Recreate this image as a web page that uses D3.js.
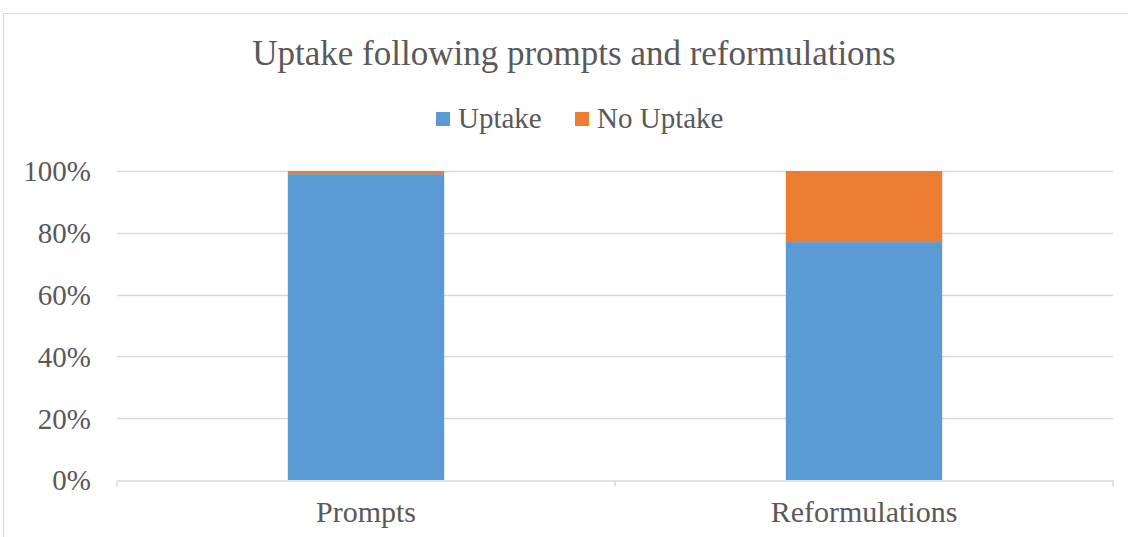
<!DOCTYPE html>
<html>
<head>
<meta charset="utf-8">
<script src="https://cdn.jsdelivr.net/npm/d3@7"></script>
<style>
  body { margin: 0; background: #fff; }
  svg text { font-family: "Times New Roman", "Liberation Serif", serif; }
</style>
</head>
<body>
<div id="chart"></div>
<script>
// Data
var categories = ["Prompts", "Reformulations"];
var seriesNames = ["Uptake", "No Uptake"];
var uptake = [0.99, 0.77];
var noUptake = [0.01, 0.23];
var yTicks = [0, 0.2, 0.4, 0.6, 0.8, 1.0];
var colors = ["#5b9bd5", "#ed7d31"];

var width = 1128, height = 537;
var margin = { top: 171, right: 15, bottom: 57, left: 117 };

var svg = d3.select("#chart")
  .append("svg")
  .attr("width", width)
  .attr("height", height);

// chart border
svg.append("rect")
  .attr("x", 3.5).attr("y", 13.5)
  .attr("width", width + 10).attr("height", height + 10)
  .attr("fill", "none").attr("stroke", "#d9d9d9").attr("stroke-width", 1);

var x = d3.scaleBand()
  .domain(categories)
  .range([margin.left, width - margin.right])
  .paddingInner(0.686)
  .paddingOuter(0.343);

var xOuter = d3.scaleBand()
  .domain(categories)
  .range([margin.left, width - margin.right]);

var y = d3.scaleLinear()
  .domain([0, 1])
  .range([height - margin.bottom, margin.top]);

// gridlines
svg.append("g")
  .selectAll("line")
  .data(yTicks.slice(1))
  .enter()
  .append("line")
  .attr("x1", margin.left).attr("x2", width - margin.right)
  .attr("y1", function (d) { return Math.round(y(d)) + 0.5; })
  .attr("y2", function (d) { return Math.round(y(d)) + 0.5; })
  .attr("stroke", "#d9d9d9").attr("stroke-width", 1.5);

// stacked bars
var rows = categories.map(function (c, i) {
  return { cat: c, "Uptake": uptake[i], "No Uptake": noUptake[i] };
});
var stack = d3.stack().keys(seriesNames)(rows);

svg.append("g")
  .selectAll("g")
  .data(stack)
  .enter()
  .append("g")
  .attr("fill", function (d, i) { return colors[i]; })
  .selectAll("rect")
  .data(function (d) { return d; })
  .enter()
  .append("rect")
  .attr("x", function (d) { return x(d.data.cat); })
  .attr("width", x.bandwidth())
  .attr("y", function (d) { return y(d[1]); })
  .attr("height", function (d) { return y(d[0]) - y(d[1]); });

// x axis line and ticks
var xAxis = d3.axisBottom(xOuter).tickSize(0).tickFormat("");
var xg = svg.append("g")
  .attr("transform", "translate(0," + (Math.round(y(0)) + 0.5) + ")")
  .call(xAxis);
xg.select(".domain").attr("stroke", "#d9d9d9").attr("stroke-width", 1.5);
var bounds = [margin.left].concat(categories.map(function (c) { return xOuter(c) + xOuter.bandwidth(); }));
xg.selectAll(".sep")
  .data(bounds)
  .enter()
  .append("line")
  .attr("class", "sep")
  .attr("x1", function (d) { return d; }).attr("x2", function (d) { return d; })
  .attr("y1", 0).attr("y2", 6)
  .attr("stroke", "#d9d9d9").attr("stroke-width", 1.5);

// category labels
svg.append("g")
  .selectAll("text")
  .data(categories)
  .enter()
  .append("text")
  .attr("x", function (d) { return xOuter(d) + xOuter.bandwidth() / 2; })
  .attr("y", 522)
  .attr("text-anchor", "middle")
  .attr("font-size", 30)
  .attr("fill", "#595959")
  .text(function (d) { return d; });

// y axis labels
var yAxis = d3.axisLeft(y).tickValues(yTicks).tickFormat(d3.format(".0%")).tickSize(0).tickPadding(26);
var yg = svg.append("g")
  .attr("transform", "translate(" + margin.left + ",0)")
  .call(yAxis);
yg.select(".domain").remove();
yg.selectAll("text")
  .attr("font-size", 29)
  .attr("fill", "#595959")
  .attr("dy", "0.34em");

// title
svg.append("text")
  .attr("x", 574).attr("y", 65)
  .attr("text-anchor", "middle")
  .attr("font-size", 35)
  .attr("fill", "#595959")
  .text("Uptake following prompts and reformulations");

// legend
var legendX = [436, 575];
var lg = svg.append("g")
  .selectAll("g")
  .data(seriesNames)
  .enter()
  .append("g")
  .attr("transform", function (d, i) { return "translate(" + legendX[i] + ",0)"; });
lg.append("rect")
  .attr("x", 0).attr("y", 112)
  .attr("width", 14).attr("height", 14)
  .attr("fill", function (d, i) { return colors[i]; });
lg.append("text")
  .attr("x", 22).attr("y", 128)
  .attr("font-size", 29)
  .attr("fill", "#595959")
  .text(function (d) { return d; });
</script>
</body>
</html>
